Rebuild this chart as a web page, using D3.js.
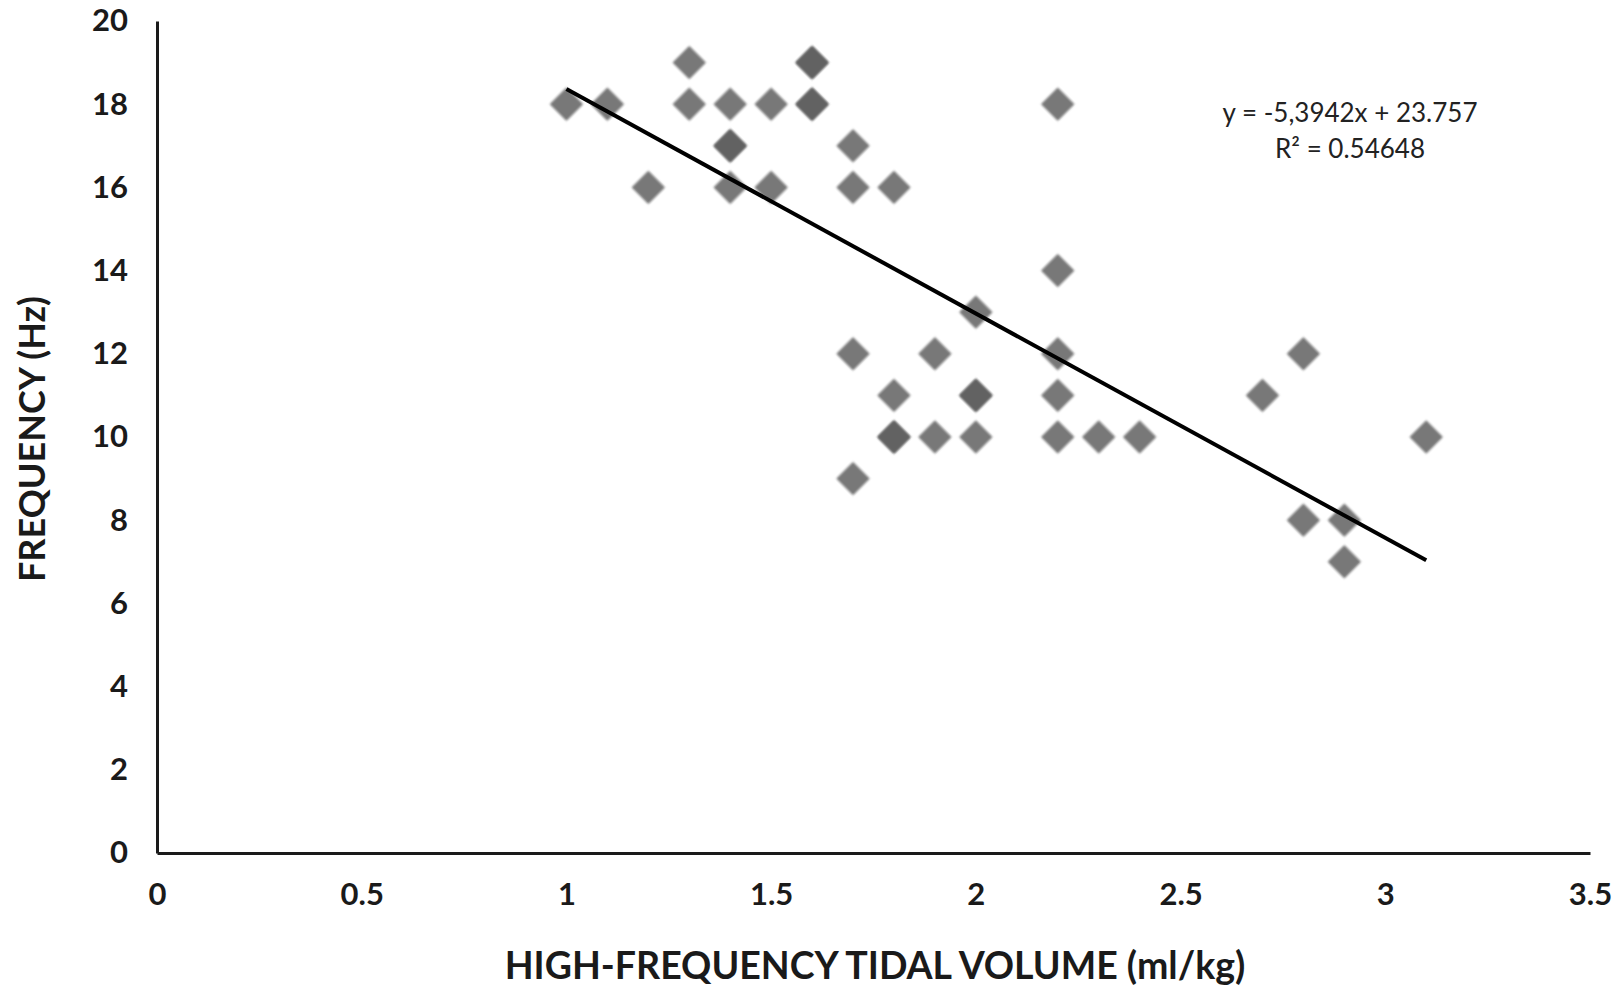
<!DOCTYPE html>
<html>
<head>
<meta charset="utf-8">
<script src="https://cdn.jsdelivr.net/npm/d3@7"></script>
<style>
  html, body { margin: 0; padding: 0; background: #fff; }
  svg { display: block; }
</style>
</head>
<body>
<svg id="chart" width="1619" height="987"></svg>
<script>
// tidal volume (ml/kg) vs frequency (Hz)
const volumes = [1.0, 1.1, 1.2, 1.3, 1.3, 1.4, 1.4, 1.4, 1.4, 1.5, 1.5, 1.6, 1.6, 1.6, 1.6,
                 1.7, 1.7, 1.8, 2.2, 2.2, 2.0, 1.7, 1.9, 2.2, 1.8, 2.0, 2.0, 2.2,
                 1.8, 1.8, 1.9, 2.0, 2.2, 2.3, 2.4, 1.7, 2.7, 2.8, 3.1, 2.8, 2.9, 2.9];
const frequencies = [18, 18, 16, 19, 18, 18, 17, 17, 16, 18, 16, 19, 19, 18, 18,
                     17, 16, 16, 18, 14, 13, 12, 12, 12, 11, 11, 11, 11,
                     10, 10, 10, 10, 10, 10, 10, 9, 11, 12, 10, 8, 8, 7];
const xTicks = [0, 0.5, 1, 1.5, 2, 2.5, 3, 3.5];
const yTicks = [0, 2, 4, 6, 8, 10, 12, 14, 16, 18, 20];
const trendCoef = [-5.3942, 23.757]; // slope, intercept
const trendRange = [1.0, 3.1];
const equationLines = ["y = -5,3942x + 23.757", "R² = 0.54648"];

const svg = d3.select("#chart");
const font = "Lato, 'Open Sans', sans-serif";

const x = d3.scaleLinear().domain([0, 3.5]).range([157, 1590]);
const y = d3.scaleLinear().domain([0, 20]).range([853, 21]);

const defs = svg.append("defs");
defs.append("filter").attr("id", "soft")
    .attr("x", "-30%").attr("y", "-30%").attr("width", "160%").attr("height", "160%")
    .append("feGaussianBlur").attr("stdDeviation", 1);

// axes
const xAxis = svg.append("g")
    .attr("transform", `translate(0,${y(0)})`)
    .call(d3.axisBottom(x).tickValues(xTicks).tickFormat(d => String(d))
        .tickSizeInner(0).tickSizeOuter(0).tickPadding(30));
const yAxis = svg.append("g")
    .attr("transform", `translate(${x(0)},0)`)
    .call(d3.axisLeft(y).tickValues(yTicks).tickFormat(d => String(d))
        .tickSizeInner(0).tickSizeOuter(0).tickPadding(29));

[xAxis, yAxis].forEach(g => {
    g.select(".domain").attr("stroke", "#1a1a1a").attr("stroke-width", 3);
    g.selectAll(".tick text")
        .attr("font-family", font)
        .attr("font-size", 31)
        .attr("font-weight", 700)
        .attr("fill", "#1a1a1a");
});

// markers
const diamond = d3.symbol().type(d3.symbolSquare).size(520);
svg.append("g")
    .selectAll("path")
    .data(volumes.map((v, i) => ({ v, f: frequencies[i] })))
    .join("path")
    .attr("d", diamond)
    .attr("transform", d => `translate(${x(d.v)},${y(d.f)}) rotate(45)`)
    .attr("fill", "#5e5e5e")
    .attr("fill-opacity", 0.84)
    .attr("stroke", "#4a4a4a")
    .attr("stroke-opacity", 0.5)
    .attr("stroke-width", 1)
    .attr("filter", "url(#soft)");

// linear trend line
const trend = d3.line()
    .x(d => x(d))
    .y(d => y(trendCoef[0] * d + trendCoef[1]));
svg.append("path")
    .datum(trendRange)
    .attr("d", trend)
    .attr("fill", "none")
    .attr("stroke", "#000")
    .attr("stroke-width", 4);

// equation
svg.append("g")
    .selectAll("text")
    .data(equationLines)
    .join("text")
    .attr("x", 1350)
    .attr("y", (d, i) => 122 + i * 36)
    .attr("text-anchor", "middle")
    .attr("font-family", font)
    .attr("font-size", 26)
    .attr("fill", "#222")
    .text(d => d);

// axis titles
svg.append("text")
    .attr("x", 875)
    .attr("y", 979)
    .attr("text-anchor", "middle")
    .attr("font-family", font)
    .attr("font-size", 37.5)
    .attr("font-weight", 700)
    .attr("fill", "#1a1a1a")
    .text("HIGH-FREQUENCY TIDAL VOLUME (ml/kg)");

svg.append("text")
    .attr("transform", "translate(45,439) rotate(-90)")
    .attr("text-anchor", "middle")
    .attr("font-family", font)
    .attr("font-size", 36)
    .attr("font-weight", 700)
    .attr("fill", "#1a1a1a")
    .text("FREQUENCY (Hz)");
</script>
</body>
</html>
